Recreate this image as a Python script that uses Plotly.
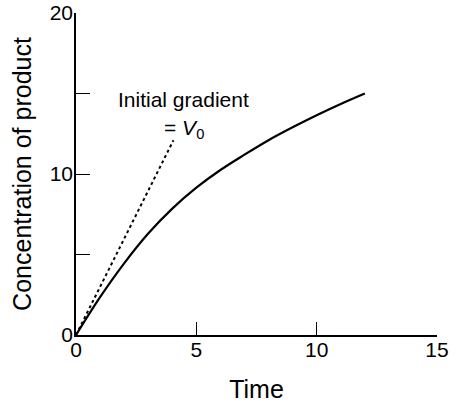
import plotly.graph_objects as go

# Data
time_vals = [0, 1, 2, 3, 4, 5, 6, 7, 8, 9, 10, 11, 12]
product_vals = [0, 2.35, 4.45, 6.3, 7.85, 9.15, 10.25, 11.2, 12.1, 12.9, 13.65, 14.35, 15.0]
gradient_t = [0, 4.05]
gradient_y = [0, 12.1]

x_ticks = [0, 5, 10, 15]
y_ticks = [0, 5, 10, 15, 20]
y_ticktext = ["0", "", "10", "", "20"]

FONT = "Liberation Sans, Arial, sans-serif"

fig = go.Figure()
fig.add_trace(go.Scatter(x=gradient_t, y=gradient_y, mode="lines",
                         line=dict(color="black", width=2, dash="dot"),
                         showlegend=False, hoverinfo="skip"))
fig.add_trace(go.Scatter(x=time_vals, y=product_vals, mode="lines",
                         line=dict(color="black", width=2.2, shape="spline", smoothing=1.0),
                         showlegend=False))

fig.add_annotation(x=4.47, y=14.6, text="Initial gradient", showarrow=False,
                   font=dict(family=FONT, size=21, color="black"))
fig.add_annotation(x=4.49, y=12.8, text="= <i>V</i><sub>0</sub>", showarrow=False,
                   font=dict(family=FONT, size=21, color="black"))

fig.update_layout(
    width=455, height=403,
    margin=dict(l=76, r=18, t=13, b=68),
    paper_bgcolor="white", plot_bgcolor="white",
    font=dict(family=FONT, size=21, color="black"),
    xaxis=dict(range=[0, 15], tickvals=x_ticks, ticks="inside", ticklen=13,
               tickwidth=1.2, tickcolor="black", showline=True, linecolor="black",
               linewidth=1.5, showgrid=False, zeroline=False, automargin=False,
               ticklabeloverflow="allow", ticklabelstandoff=-5,
               title=dict(text="Time", standoff=30)),
    yaxis=dict(range=[0, 20], tickvals=y_ticks, ticktext=y_ticktext, ticks="inside",
               ticklen=14, tickwidth=1.2, tickcolor="black", showline=True,
               linecolor="black", linewidth=1.5, showgrid=False, zeroline=False,
               automargin=False, ticklabeloverflow="allow", ticklabelstandoff=-3,
               title=dict(text="Concentration of product", standoff=11)),
)

fig.write_html("out.html", config={"displayModeBar": False},
               post_script="document.body.style.margin='0px';")
